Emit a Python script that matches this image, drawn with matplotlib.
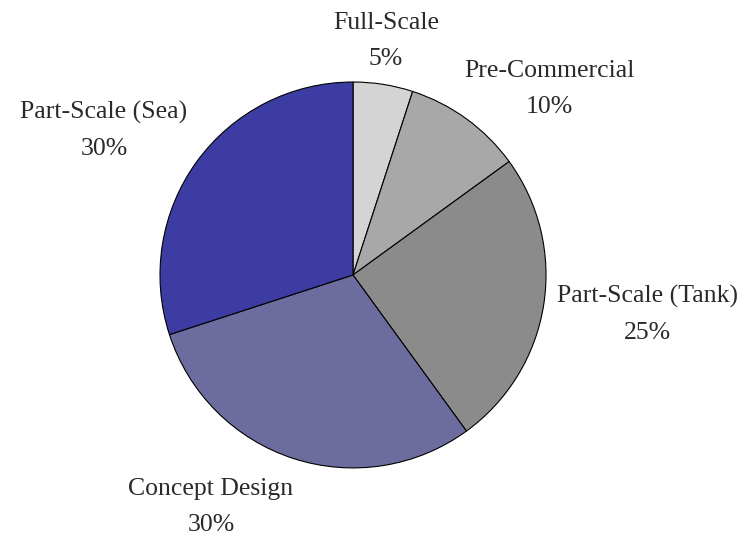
import matplotlib.pyplot as plt

# Share of devices by development stage
stages = ['Full-Scale', 'Pre-Commercial', 'Part-Scale (Tank)', 'Concept Design', 'Part-Scale (Sea)']
shares = [5, 10, 25, 30, 30]
colors = ['#d4d4d4', '#a8a8a8', '#8b8b8b', '#6c6c9f', '#3c3ca2']

# baseline of each stage name, in axes data units (pie radius = 1)
label_pos = [(0.171, 1.275), (1.016, 1.026), (1.528, -0.145), (-0.736, -1.140), (-1.290, 0.808)]
line_gap = 0.1865

fig = plt.figure(figsize=(7.45, 5.37), dpi=100)
ax = fig.add_axes([0, 0, 1, 1])

ax.pie(shares, colors=colors, startangle=90, counterclock=False, radius=1,
       wedgeprops=dict(edgecolor='black', linewidth=0.8))

font = dict(family='Liberation Serif', fontsize=18.5, color='#2a2a2a',
            ha='center', va='baseline')
for name, val, (x, y) in zip(stages, shares, label_pos):
    ax.text(x, y, name, **font)
    ax.text(x, y - line_gap, f'{val}%', **font)

ax.set_xlim(-1.829, 2.031)
ax.set_ylim(-1.358, 1.425)
ax.set_aspect('auto')
ax.axis('off')

fig.savefig('out.png', dpi=100)
